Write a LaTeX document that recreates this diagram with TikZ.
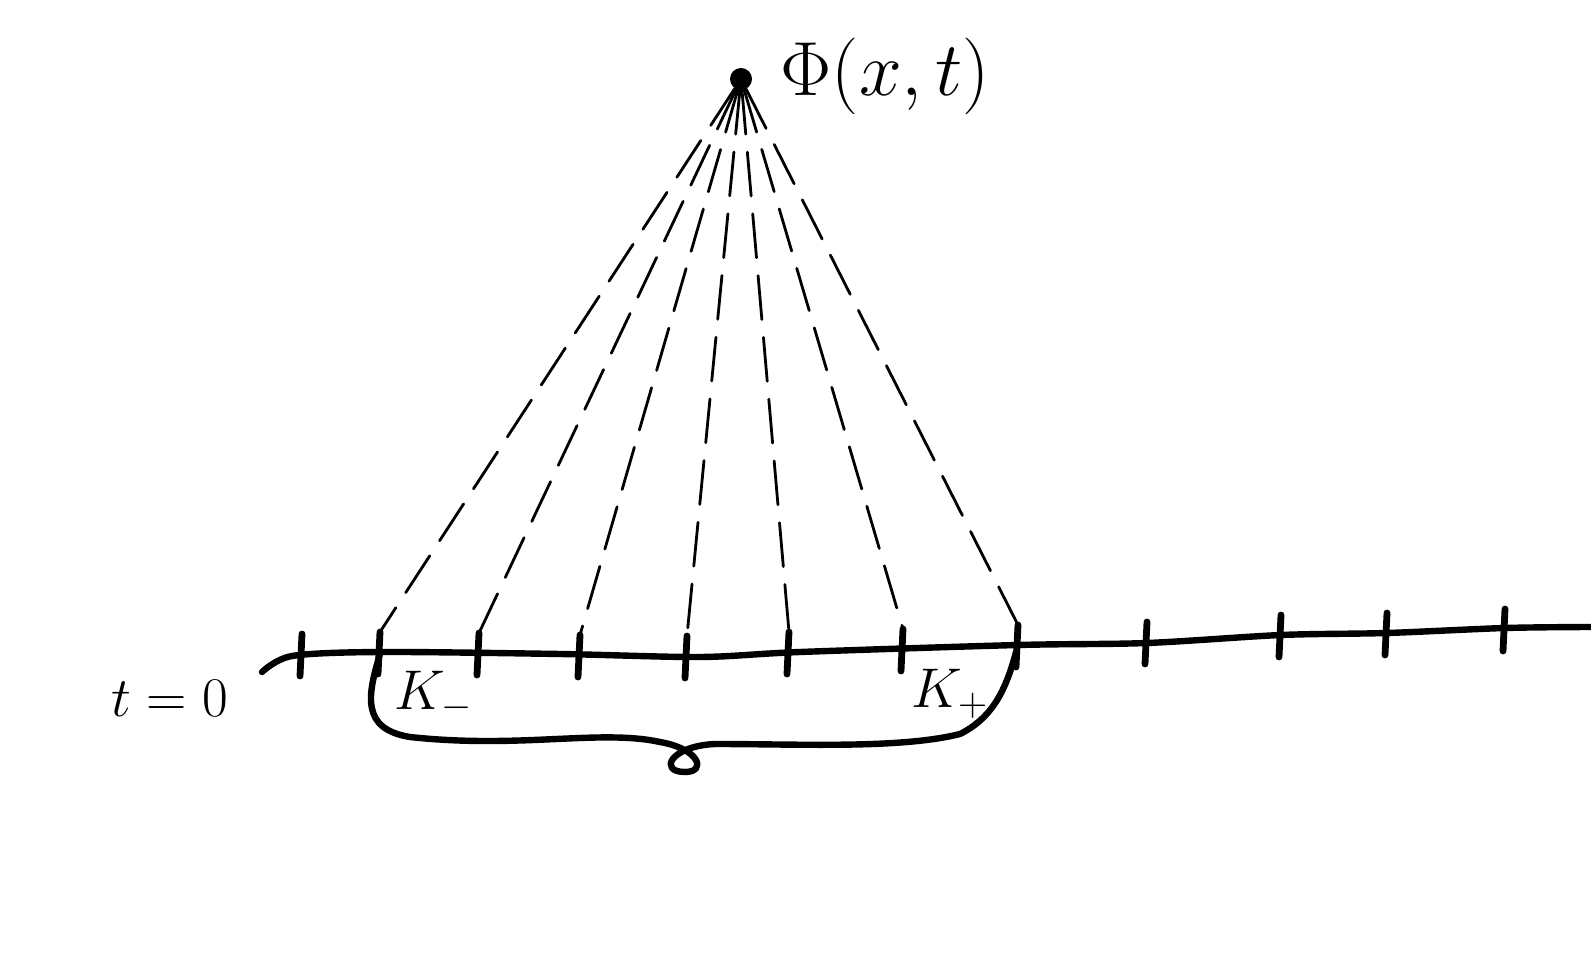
\documentclass[tikz,border=0pt]{standalone}
\begin{document}
\begin{tikzpicture}[x=0.5pt,y=-0.5pt,
  ink/.style={line width=3.2pt,line cap=round,line join=round},
  tick/.style={line width=3.4pt,line cap=round},
  ray/.style={line width=1.4pt,dash pattern=on 22pt off 9pt,line cap=round},
  lab/.style={inner sep=0pt,font=\huge,scale=1.35},
  biglab/.style={inner sep=0pt,font=\huge,scale=1.85}]
\useasboundingbox (0,0) rectangle (1591,978);
% apex
\node[circle,fill=black,inner sep=0pt,minimum size=11pt] (apex) at (741,79) {};
\node[biglab,anchor=west] (phi) at (780,76) {$\Phi(x,t)$};
% axis
\draw[ink] plot[smooth,tension=0.5] coordinates {(262,672) (292,656) (380,652) (560,654) (700,657) (800,652) (1018,645) (1147,643) (1281,635) (1387,633) (1505,628) (1591,627)};
% ticks: top and bottom coordinates
\foreach \n/\x/\y in {a/302/654, b/380/652, c/479/653, d/580/655, e/687/656, f/789/652, g/903/649, h/1018/645, i/1147/642, j/1281/635, k/1387/633, l/1505/629}{
  \coordinate (t\n) at (\x,\y-20);
  \coordinate (b\n) at (\x-2,\y+22);
  \draw[tick] (t\n) -- (b\n);
}
% rays
\foreach \n in {b,c,d,e,f,g,h}{
  \draw[ray] (apex) -- (t\n);
}
% brace below
\coordinate (bl) at (380,654);
\coordinate (br) at (1016,652);
\draw[ink] (bl) .. controls (368,694) and (360,729) .. (410,737)
  .. controls (520,749) and (600,729) .. (660,742)
  .. controls (700,749) and (707,772) .. (685,772)
  .. controls (658,772) and (670,746) .. (715,744)
  .. controls (800,744) and (900,749) .. (960,734)
  .. controls (990,719) and (1005,694) .. (br);
% labels
\node[lab] (t0) at (170,698) {$t=0$};
\node[lab] (km) at (434,696) {$K_-$};
\node[lab] (kp) at (950,694) {$K_+$};
\end{tikzpicture}
\end{document}
